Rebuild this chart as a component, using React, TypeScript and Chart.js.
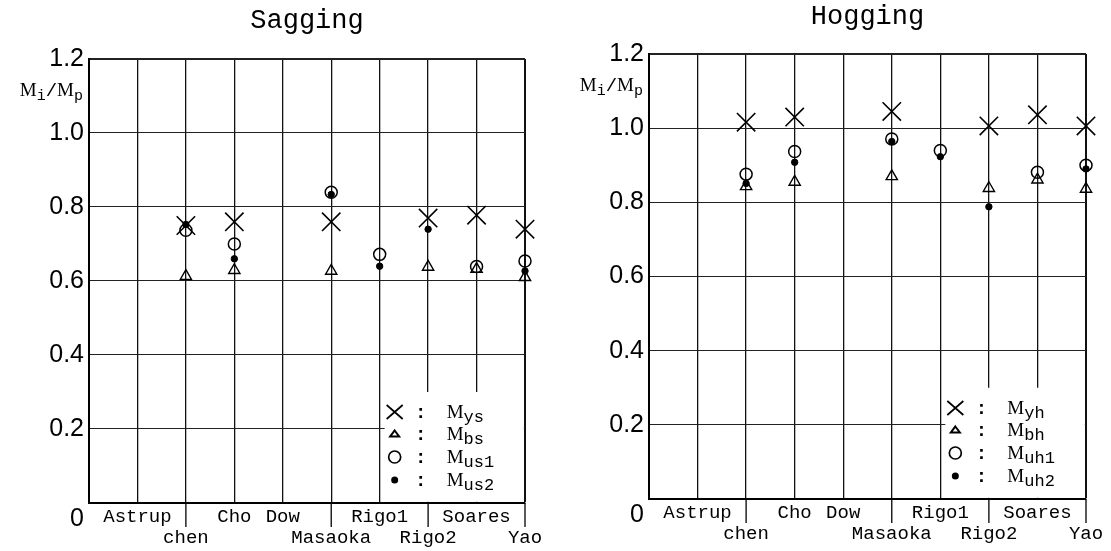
import { useEffect, useRef } from 'react';
import { Chart, registerables } from 'chart.js';

Chart.register(...registerables);

// ---------- data ----------
const categories = ['Astrup', 'chen', 'Cho', 'Dow', 'Masaoka', 'Rigo1', 'Rigo2', 'Soares', 'Yao'];
// 0 = upper label row, 1 = lower label row
const labelRow = [0, 1, 0, 0, 1, 0, 1, 0, 1];
const yTickValues = [0, 0.2, 0.4, 0.6, 0.8, 1.0, 1.2];

const sagMys = [null, 0.75, 0.76, null, 0.76, null, 0.77, 0.778, 0.74];
const sagMbs = [null, 0.613, 0.629, null, 0.627, null, 0.638, 0.632, 0.61];
const sagMus1 = [null, 0.737, 0.70, null, 0.84, 0.672, null, 0.639, 0.654];
const sagMus2 = [null, 0.753, 0.66, null, 0.834, 0.64, 0.74, null, 0.627];

const hogMyh = [null, 1.016, 1.03, null, 1.045, null, 1.006, 1.036, 1.006];
const hogMbh = [null, 0.843, 0.855, null, 0.87, null, 0.838, 0.861, 0.836];
const hogMuh1 = [null, 0.876, 0.937, null, 0.971, 0.94, null, 0.881, 0.90];
const hogMuh2 = [null, 0.851, 0.908, null, 0.964, 0.923, 0.788, null, 0.89];

const sagSubs = ['ys', 'bs', 'us1', 'us2'];
const hogSubs = ['yh', 'bh', 'uh1', 'uh2'];

// ---------- layout ----------
const panels = [
  {
    key: 'sag', title: 'Sagging', left: 0, width: 556,
    yAxisWidth: 89, padRight: 31, xAxisHeight: 48, titleCenter: 21, areaTop: 59,
    series: [sagMys, sagMbs, sagMus1, sagMus2], subs: sagSubs,
  },
  {
    key: 'hog', title: 'Hogging', left: 556, width: 555,
    yAxisWidth: 93, padRight: 25, xAxisHeight: 52, titleCenter: 17, areaTop: 54,
    series: [hogMyh, hogMbh, hogMuh1, hogMuh2], subs: hogSubs,
  },
];

const H = 551;
const TITLE_SIZE = 27;
const markerStyles = ['crossRot', 'triangle', 'circle', 'circle'];

function drawLegendMarker(ctx: CanvasRenderingContext2D, i: number, x: number, y: number) {
  ctx.save();
  ctx.strokeStyle = '#000';
  ctx.fillStyle = '#000';
  ctx.lineWidth = 1.7;
  ctx.beginPath();
  if (i === 0) {
    ctx.moveTo(x - 8, y - 7); ctx.lineTo(x + 8, y + 7);
    ctx.moveTo(x + 8, y - 7); ctx.lineTo(x - 8, y + 7);
    ctx.stroke();
  } else if (i === 1) {
    ctx.lineWidth = 2;
    ctx.moveTo(x, y - 3.5); ctx.lineTo(x + 4.5, y + 2.5); ctx.lineTo(x - 4.5, y + 2.5); ctx.closePath();
    ctx.stroke();
  } else if (i === 2) {
    ctx.arc(x, y, 6, 0, Math.PI * 2);
    ctx.stroke();
  } else {
    ctx.arc(x, y, 3.5, 0, Math.PI * 2);
    ctx.fill();
  }
  ctx.restore();
}

function drawMSub(ctx: CanvasRenderingContext2D, x: number, y: number, sub: string): number {
  ctx.font = '19px "Liberation Serif"';
  ctx.fillText('M', x, y + 6);
  const w = ctx.measureText('M').width;
  ctx.font = '17px "Liberation Mono"';
  ctx.fillText(sub, x + w, y + 10);
  return w + ctx.measureText(sub).width;
}

function makePlugin(subs: string[]) {
  return {
    id: 'decor',
    beforeDatasetsDraw(chart: any) {
      const { ctx, chartArea: a, scales } = chart;
      const xs = scales.x;
      const ys = scales.y;
      ctx.save();
      // long ticks for lower-row labels
      ctx.strokeStyle = '#000';
      ctx.lineWidth = 1.3;
      labelRow.forEach((r, i) => {
        if (r === 1) {
          const px = xs.getPixelForValue(i + 1);
          ctx.beginPath();
          ctx.moveTo(px, a.bottom);
          ctx.lineTo(px, a.bottom + 24);
          ctx.stroke();
        }
      });
      // legend box
      const x0 = xs.getPixelForValue(6);
      const yTop = ys.getPixelForValue(0.3);
      ctx.fillStyle = '#fff';
      ctx.fillRect(x0 + 5, yTop, a.right - 1.2 - (x0 + 5), a.bottom - 1.2 - yTop);
      const rows = [91, 69, 46, 23];
      ctx.fillStyle = '#000';
      ctx.textAlign = 'left';
      ctx.textBaseline = 'alphabetic';
      rows.forEach((off, i) => {
        const cy = a.bottom - off;
        drawLegendMarker(ctx, i, x0 + 15, cy);
        ctx.font = 'bold 19px "Liberation Mono"';
        ctx.textAlign = 'center';
        ctx.fillText(':', x0 + 41, cy + 6);
        ctx.textAlign = 'left';
        drawMSub(ctx, x0 + 67, cy, subs[i]);
      });
      ctx.restore();
    },
    afterDraw(chart: any) {
      const { ctx, chartArea: a } = chart;
      ctx.save();
      ctx.fillStyle = '#000';
      ctx.textBaseline = 'alphabetic';
      ctx.textAlign = 'left';
      // measure y-axis title "Mi/Mp"
      const parts: [string, string, number][] = [
        ['M', '19px "Liberation Serif"', 0],
        ['i', '15px "Liberation Mono"', 4],
        ['/', '19px "Liberation Mono"', 0],
        ['M', '19px "Liberation Serif"', 0],
        ['p', '15px "Liberation Mono"', 4],
      ];
      let total = 0;
      parts.forEach(([t, f]) => { ctx.font = f; total += ctx.measureText(t).width; });
      let x = a.left - 6 - total;
      const base = a.top + 37;
      parts.forEach(([t, f, dy]) => {
        ctx.font = f;
        ctx.fillText(t, x, base + dy);
        x += ctx.measureText(t).width;
      });
      ctx.restore();
    },
  };
}

function Panel({ p }: { p: typeof panels[number] }) {
  const ref = useRef<HTMLCanvasElement | null>(null);
  useEffect(() => {
    if (!ref.current) return;
    const labels = ['', ...categories];
    const dsCommon = {
      showLine: false,
      clip: false as any,
      pointBorderColor: '#000',
      pointBackgroundColor: 'rgba(0,0,0,0)',
    };
    const datasets = [
      { ...dsCommon, label: 'M' + p.subs[0], data: [null, ...p.series[0]], pointStyle: 'crossRot', pointRadius: 13, pointBorderWidth: 1.6 },
      { ...dsCommon, label: 'M' + p.subs[1], data: [null, ...p.series[1]], pointStyle: 'triangle', pointRadius: 6.5, pointBorderWidth: 1.4 },
      { ...dsCommon, label: 'M' + p.subs[2], data: [null, ...p.series[2]], pointStyle: 'circle', pointRadius: 6, pointBorderWidth: 1.5 },
      { ...dsCommon, label: 'M' + p.subs[3], data: [null, ...p.series[3]], pointStyle: 'circle', pointRadius: 3.2, pointBorderWidth: 1, pointBackgroundColor: '#000' },
    ];
    const titleLH = TITLE_SIZE * 1.2;
    const padTop = p.titleCenter - titleLH / 2;
    const padBottom = p.areaTop - padTop - titleLH;
    const chart = new Chart(ref.current, {
      type: 'line',
      data: { labels, datasets: datasets as any },
      plugins: [makePlugin(p.subs)],
      options: {
        responsive: false,
        animation: false,
        events: [],
        layout: { padding: { left: 0, right: p.padRight, top: 0, bottom: 0 } },
        plugins: {
          legend: { display: false },
          tooltip: { enabled: false },
          title: {
            display: true,
            text: p.title,
            fullSize: false,
            color: '#000',
            font: { family: 'Liberation Mono', size: TITLE_SIZE, weight: 'normal' as any, lineHeight: 1.2 },
            padding: { top: padTop, bottom: padBottom },
          },
        },
        scales: {
          x: {
            type: 'category',
            offset: false,
            grid: {
              color: '#111',
              lineWidth: (c: any) => (c.index === categories.length ? 2 : 1.3),
              drawTicks: false,
            },
            border: { color: '#000', width: 2 },
            ticks: {
              autoSkip: false,
              maxRotation: 0,
              minRotation: 0,
              padding: 4,
              color: '#000',
              font: { family: 'Liberation Mono', size: 19, lineHeight: 1.1 },
              callback: (_v: any, i: number) => {
                if (i === 0) return '';
                const name = categories[i - 1];
                return labelRow[i - 1] === 1 ? ['', name] : [name];
              },
            },
            afterFit: (s: any) => { s.height = p.xAxisHeight; },
          },
          y: {
            min: yTickValues[0],
            max: yTickValues[yTickValues.length - 1],
            grid: {
              color: '#222',
              lineWidth: (c: any) => (c.tick && Math.abs(c.tick.value - 1.2) < 1e-6 ? 2 : 1.1),
              drawTicks: false,
            },
            border: { color: '#000', width: 2 },
            ticks: {
              stepSize: 0.2,
              padding: 5,
              color: '#000',
              font: { family: 'Liberation Sans', size: 25, lineHeight: 1.3 },
              callback: (v: any) => (Math.abs(Number(v)) < 1e-6 ? ['', '0'] : Number(v).toFixed(1)),
            },
            afterFit: (s: any) => { s.width = p.yAxisWidth; },
          },
        },
      } as any,
    });
    return () => chart.destroy();
  }, [p]);
  return (
    <canvas
      ref={ref}
      width={p.width}
      height={H}
      style={{ position: 'absolute', left: p.left, top: 0, width: p.width, height: H }}
    />
  );
}

export default function App() {
  return (
    <div style={{ position: 'absolute', left: 0, top: 0, width: 1111, height: H, background: '#fff' }}>
      {panels.map((p) => (
        <Panel key={p.key} p={p} />
      ))}
    </div>
  );
}
